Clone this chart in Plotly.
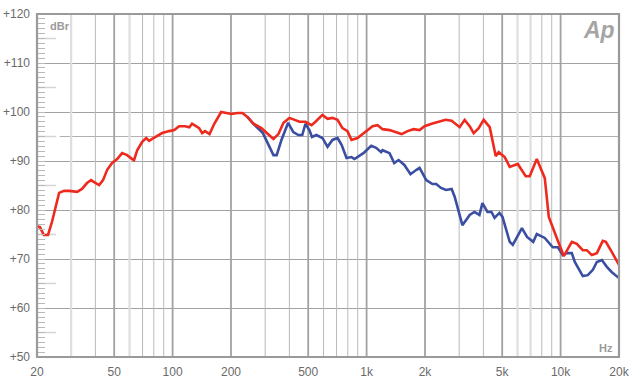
import plotly.graph_objects as go

# ---- data (Hz, dBr) ----
red_freq = [20, 20.7, 21.7, 22.8, 23.9, 25.1, 26.0, 27.6, 29.3, 32.2, 34.1, 36.2, 38.0, 39.4, 41.8,
            43.8, 46.0, 48.8, 51.8, 54.9, 58.3, 61.9, 63.3, 65.7, 69.7, 73.1, 75.7, 78.5, 83.3, 88.4,
            96, 102, 108, 116, 122, 126, 132, 137, 142, 147, 155, 164, 178, 187, 201, 216, 229, 243,
            261, 287, 308, 331, 351, 373, 400, 425, 451, 484, 520, 545, 572, 592, 629, 667, 708, 751,
            797, 836, 898, 941, 1011, 1073, 1139, 1208, 1313, 1410, 1514, 1626, 1746, 1875, 1990,
            2163, 2323, 2555, 2744, 2877, 3017, 3202, 3399, 3564, 3782, 4015, 4311, 4630, 4797, 5152,
            5467, 6013, 6612, 6931, 7539, 8289, 8692, 9557, 10388, 11424, 12121, 13013, 13649, 14491,
            15379, 16500, 17113, 18377, 19044, 20000]
red_db = [76.7, 76.5, 74.9, 74.9, 77.6, 81.4, 83.5, 83.9, 83.9, 83.7, 84.3, 85.5, 86.1, 85.7, 85.1,
          86.1, 88.2, 89.6, 90.4, 91.6, 91.2, 90.4, 90.2, 92.2, 93.9, 94.7, 94.1, 94.5, 95.1, 95.7,
          96.1, 96.3, 97.1, 97.1, 96.9, 97.6, 97.1, 96.7, 95.7, 96.1, 95.5, 97.6, 100.0, 99.8, 99.6,
          99.8, 99.8, 99.0, 97.6, 96.7, 95.7, 94.5, 95.5, 97.8, 98.8, 98.4, 98.0, 98.0, 97.3, 98.0,
          98.8, 99.4, 98.6, 98.8, 98.4, 96.7, 96.1, 94.3, 94.7, 95.3, 96.3, 97.1, 97.3, 96.5, 96.3,
          95.9, 95.5, 96.1, 96.5, 96.3, 97.1, 97.6, 98.0, 98.4, 98.2, 97.6, 96.9, 98.4, 97.1, 95.7,
          96.7, 98.4, 96.9, 91.0, 91.8, 90.8, 88.8, 89.4, 86.9, 86.9, 90.4, 86.5, 78.6, 74.3, 70.6,
          73.5, 73.1, 71.8, 71.8, 70.8, 71.2, 73.7, 73.5, 71.4, 70.2, 68.8]

blue_freq = [243, 261, 292, 308, 331, 344, 364, 394, 419, 445, 466, 484, 507, 523, 551, 592, 629,
             667, 708, 743, 788, 836, 866, 963, 1056, 1120, 1188, 1208, 1313, 1388, 1462, 1565,
             1684, 1808, 1875, 2030, 2183, 2286, 2418, 2566, 2744, 2844, 3117, 3399, 3596, 3816,
             3954, 4198, 4403, 4566, 4840, 5017, 5467, 5668, 6320, 6714, 7226, 7539, 8289, 9110,
             9684, 10266, 10767, 11424, 11837, 13013, 13812, 14663, 15379, 16318, 17315, 18377, 20000]
blue_db = [99.0, 97.6, 95.7, 93.7, 91.2, 91.2, 94.3, 97.8, 95.9, 95.3, 95.3, 97.6, 96.3, 94.9, 95.3,
           94.7, 92.9, 94.3, 94.7, 93.3, 90.6, 90.8, 90.4, 91.6, 93.1, 92.7, 91.8, 92.2, 91.6, 89.6,
           90.2, 89.2, 87.3, 88.2, 88.6, 86.1, 85.3, 85.3, 84.5, 84.1, 84.3, 82.7, 76.9, 79.0, 79.6,
           79.0, 81.4, 79.6, 79.6, 78.4, 79.4, 78.6, 73.5, 72.9, 76.3, 74.5, 73.5, 75.1, 74.3, 72.4,
           72.4, 70.8, 71.2, 71.2, 69.4, 66.5, 66.7, 67.8, 69.4, 69.8, 68.4, 67.3, 66.1]

x_tickvals = [20, 50, 100, 200, 500, 1000, 2000, 5000, 10000, 20000]
x_ticktext = ["20", "50", "100", "200", "500", "1k", "2k", "5k", "10k", "20k"]
y_tickvals = [50, 60, 70, 80, 90, 100, 110, 120]
y_ticktext = ["+50", "+60", "+70", "+80", "+90", "+100", "+110", "+120"]

major_grid = [50, 100, 200, 500, 1000, 2000, 5000, 10000]
minor_grid = [40, 70, 80, 90, 300, 400, 600, 700, 800, 900, 3000, 4000, 8000, 9000]
light_grid = [30, 60, 6000, 7000]
half_ticks = [55, 65, 75, 85, 105, 115]

Y0, Y1 = 50, 120


def vlines(vals):
    xs, ys = [], []
    for v in vals:
        xs += [v, v, None]
        ys += [Y0, Y1, None]
    return xs, ys


fig = go.Figure()
for vals, col, w in [(light_grid, "#dedede", 2.2), (minor_grid, "#b9b9b9", 1),
                     (major_grid, "#a2a2a2", 1.8)]:
    xs, ys = vlines(vals)
    fig.add_trace(go.Scatter(x=xs, y=ys, mode="lines", line=dict(color=col, width=w),
                             hoverinfo="skip", showlegend=False))

fig.add_trace(go.Scatter(x=blue_freq, y=blue_db, mode="lines",
                         line=dict(color="#3a4ea2", width=2.6), showlegend=False))
fig.add_trace(go.Scatter(x=red_freq, y=red_db, mode="lines",
                         line=dict(color="#ee2a1e", width=2.6), showlegend=False))

shapes = [dict(type="rect", xref="paper", yref="paper", x0=0, x1=1, y0=0, y1=1,
               line=dict(color="#9a9a9a", width=2.2), layer="above")]
for t in half_ticks:
    shapes.append(dict(type="line", xref="paper", yref="y", x0=0, x1=0.033, y0=t, y1=t,
                       line=dict(color="#d4d4d4", width=1.5), layer="below"))
shapes.append(dict(type="line", xref="paper", yref="y", x0=0, x1=0.033, y0=95, y1=95,
                   line=dict(color="#d4d4d4", width=1.5), layer="below"))
shapes.append(dict(type="line", xref="paper", yref="y", x0=0.039, x1=1, y0=95, y1=95,
                   line=dict(color="#b0b0b0", width=1), layer="below"))

fig.update_layout(
    width=640, height=381,
    margin=dict(l=37, r=21, t=14, b=24, autoexpand=False),
    paper_bgcolor="white", plot_bgcolor="white",
    font=dict(family="Liberation Sans, Arial, sans-serif", size=12, color="#6a6a6a"),
    shapes=shapes,
    annotations=[
        dict(text="<b>dBr</b>", xref="paper", yref="paper", x=0.04, y=0.965, showarrow=False,
             font=dict(size=11, color="#9a9a9a"), xanchor="center", yanchor="middle"),
        dict(text="<b>Hz</b>", xref="paper", yref="paper", x=0.978, y=0.027, showarrow=False,
             font=dict(size=11, color="#9a9a9a"), xanchor="center", yanchor="middle"),
        dict(text="<b><i>Ap</i></b>", xref="paper", yref="paper", x=0.966, y=0.952,
             showarrow=False, font=dict(size=23, color="#a5a5a5"),
             xanchor="center", yanchor="middle"),
    ],
)
fig.update_xaxes(type="log", range=[1.30103, 4.30103], showgrid=False, zeroline=False,
                 tickvals=x_tickvals, ticktext=x_ticktext, ticks="", showline=False,
                 ticklabelstandoff=6, automargin=False)
fig.update_yaxes(range=[Y0, Y1], showgrid=True, gridcolor="#a2a2a2", gridwidth=1.3,
                 zeroline=False, tickvals=y_tickvals, ticktext=y_ticktext,
                 ticks="inside", ticklen=8, tickcolor="#b9b9b9", showline=False,
                 ticklabelstandoff=6, automargin=False,
                 minor=dict(ticks="inside", ticklen=8, dtick=1, tickcolor="#b9b9b9",
                            showgrid=False))

fig.write_html("out.html", config={"displayModeBar": False},
               post_script="document.body.style.margin='0px';")
